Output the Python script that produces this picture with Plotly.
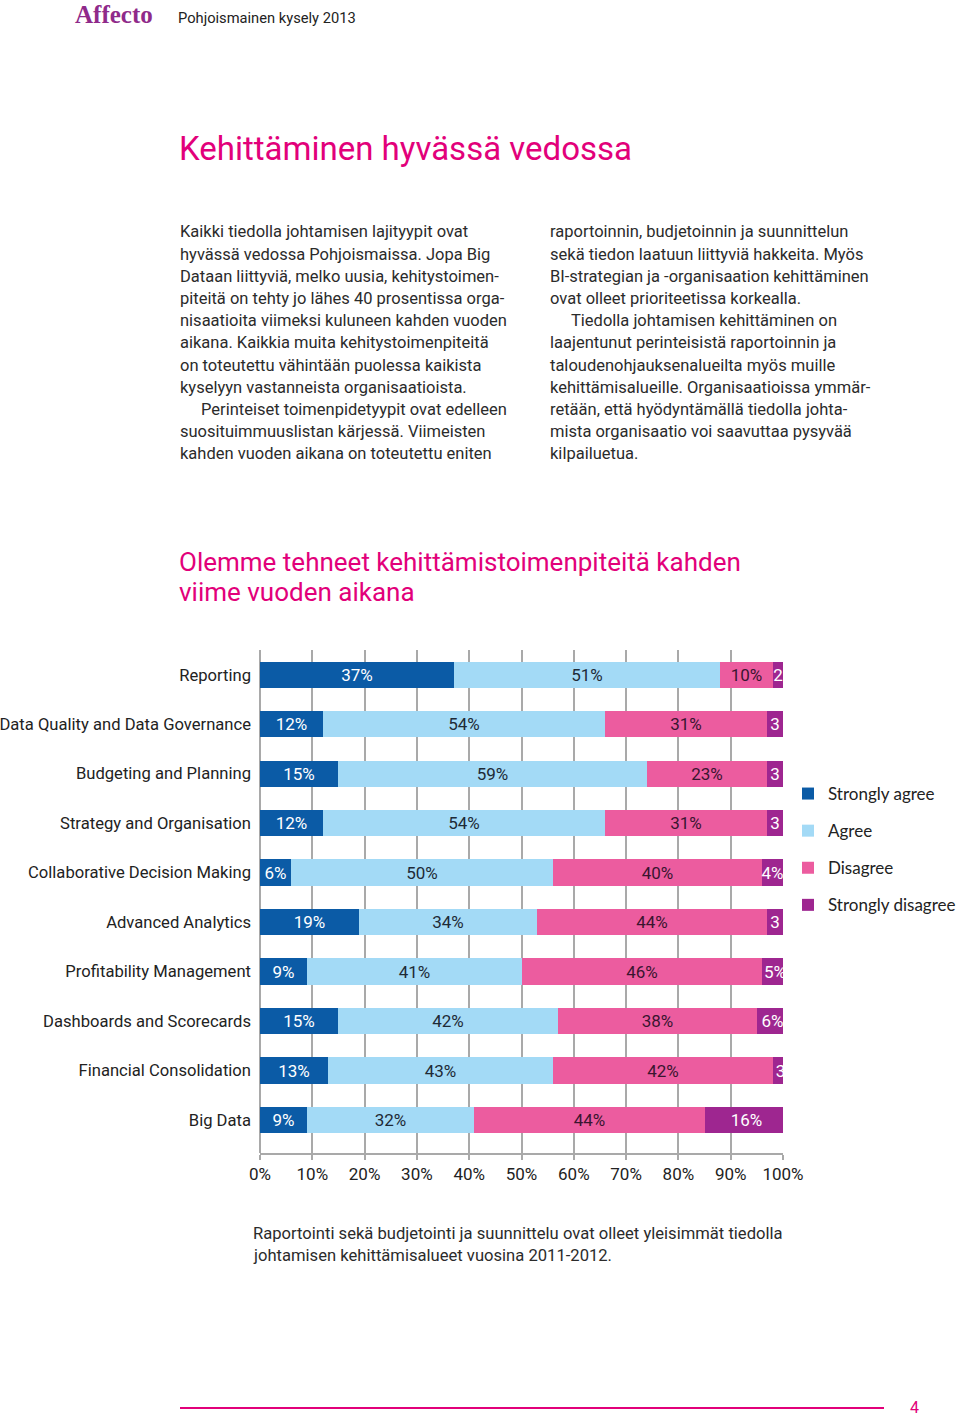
import plotly.graph_objects as go

W, H = 960, 1418

categories = [
    "Reporting",
    "Data Quality and Data Governance",
    "Budgeting and Planning",
    "Strategy and Organisation",
    "Collaborative Decision Making",
    "Advanced Analytics",
    "Profitability Management",
    "Dashboards and Scorecards",
    "Financial Consolidation",
    "Big Data",
]
strongly_agree = [37, 12, 15, 12, 6, 19, 9, 15, 13, 9]
agree = [51, 54, 59, 54, 50, 34, 41, 42, 43, 32]
disagree = [10, 31, 23, 31, 40, 44, 46, 38, 42, 44]
strongly_disagree = [2, 3, 3, 3, 4, 3, 5, 6, 3, 16]

x_ticks = [0, 10, 20, 30, 40, 50, 60, 70, 80, 90, 100]
x_tick_labels = [f"{v}%" for v in x_ticks]

series = [
    ("Strongly agree", strongly_agree, "#0b5ba6", "#ffffff"),
    ("Agree", agree, "#a3daf6", "#1e2a36"),
    ("Disagree", disagree, "#ec5c9f", "#3a1530"),
    ("Strongly disagree", strongly_disagree, "#9e2690", "#ffffff"),
]

PINK = "#e2007a"
TEXT = "#2b2b2b"
FONT = "Roboto"

fig = go.Figure()
for name, vals, color, tcolor in series:
    if name == "Strongly disagree":
        labels = [str(v) if v <= 3 else f"{v}%" for v in vals]
    else:
        labels = [f"{v}%" for v in vals]
    fig.add_trace(go.Bar(
        name=name, y=categories, x=vals, orientation="h",
        marker=dict(color=color, line=dict(width=0)),
        text=labels, textposition="inside", insidetextanchor="middle",
        textangle=0, textfont=dict(family=FONT, size=17, color=tcolor),
        width=0.53, legendgroup=name, hoverinfo="skip",
    ))


def px_x(v):
    return v / W


def px_y(v):
    return 1 - v / H


x0, x1 = 260, 783
y_top, y_bot = 650, 1153

fig.update_layout(
    width=W, height=H, autosize=False,
    margin=dict(l=0, r=0, t=0, b=0, autoexpand=False),
    paper_bgcolor="white", plot_bgcolor="white",
    barmode="stack", bargap=0,
    showlegend=True,
    uniformtext=dict(minsize=17, mode="show"),
    legend=dict(
        x=px_x(788), y=px_y(776), xanchor="left", yanchor="top",
        font=dict(family="Lato", size=17, color="#222222"),
        tracegroupgap=12, traceorder="grouped", bgcolor="rgba(0,0,0,0)",
        itemclick=False, itemdoubleclick=False,
    ),
    xaxis=dict(
        domain=[px_x(x0), px_x(x1)], range=[0, 100],
        tickvals=x_ticks, ticktext=x_tick_labels,
        showgrid=True, gridcolor="#a9a9a9", gridwidth=2,
        zeroline=True, zerolinecolor="#a9a9a9", zerolinewidth=2,
        showline=True, linecolor="#a9a9a9", linewidth=2,
        ticks="outside", ticklen=5, tickcolor="#a9a9a9", tickwidth=2,
        tickfont=dict(family=FONT, size=17, color="#222222"),
        fixedrange=True,
    ),
    yaxis=dict(
        domain=[px_y(y_bot), px_y(y_top)],
        type="category", range=[9.67, -0.5],
        showgrid=False, zeroline=False, showline=False,
        ticks="", ticklabelstandoff=8,
        tickfont=dict(family=FONT, size=16.6, color="#222222"),
        fixedrange=True,
    ),
)

ann = []


def text(x, y, s, size, color=TEXT, family=FONT, anchor="left", **kw):
    ann.append(dict(
        x=px_x(x), y=px_y(y), xref="paper", yref="paper",
        text=s, showarrow=False, xanchor=anchor, yanchor="middle",
        font=dict(family=family, size=size, color=color), **kw,
    ))


# header
text(73, 15, "<b>Affecto</b>", 25, color="#8f2a8a", family="Liberation Serif")
text(176, 18, "Pohjoismainen kysely 2013", 14.7, color="#222222")
text(177, 148, "Kehittäminen hyvässä vedossa", 33, color=PINK)

left_col = [
    "Kaikki tiedolla johtamisen lajityypit ovat",
    "hyvässä vedossa Pohjoismaissa. Jopa Big",
    "Dataan liittyviä, melko uusia, kehitystoimen-",
    "piteitä on tehty jo lähes 40 prosentissa orga-",
    "nisaatioita viimeksi kuluneen kahden vuoden",
    "aikana. Kaikkia muita kehitystoimenpiteitä",
    "on toteutettu vähintään puolessa kaikista",
    "kyselyyn vastanneista organisaatioista.",
    "    Perinteiset toimenpidetyypit ovat edelleen",
    "suosituimmuuslistan kärjessä. Viimeisten",
    "kahden vuoden aikana on toteutettu eniten",
]
right_col = [
    "raportoinnin, budjetoinnin ja suunnittelun",
    "sekä tiedon laatuun liittyviä hakkeita. Myös",
    "BI-strategian ja -organisaation kehittäminen",
    "ovat olleet prioriteetissa korkealla.",
    "    Tiedolla johtamisen kehittäminen on",
    "laajentunut perinteisistä raportoinnin ja",
    "taloudenohjauksenalueilta myös muille",
    "kehittämisalueille. Organisaatioissa ymmär-",
    "retään, että hyödyntämällä tiedolla johta-",
    "mista organisaatio voi saavuttaa pysyvää",
    "kilpailuetua.",
]
for i, line in enumerate(left_col):
    xs = 178
    s = line
    if line.startswith("    "):
        xs = 199
        s = line.strip()
    text(xs, 232 + i * 22.2, s, 16.5)
for i, line in enumerate(right_col):
    xs = 548
    s = line
    if line.startswith("    "):
        xs = 569
        s = line.strip()
    text(xs, 232 + i * 22.2, s, 16.5)

text(177, 562, "Olemme tehneet kehittämistoimenpiteitä kahden", 26, color=PINK)
text(177, 592, "viime vuoden aikana", 26, color=PINK)

text(251, 1233, "Raportointi sekä budjetointi ja suunnittelu ovat olleet yleisimmät tiedolla", 16.6)
text(251, 1255, "johtamisen kehittämisalueet vuosina 2011-2012.", 16.6)

text(914, 1407, "4", 16, color=PINK, anchor="center")

fig.update_layout(annotations=ann)
fig.add_shape(type="line", xref="paper", yref="paper",
              x0=px_x(180), x1=px_x(884), y0=px_y(1408), y1=px_y(1408),
              line=dict(color=PINK, width=2))

fig.write_html(
    "out.html",
    config={"responsive": False, "displayModeBar": False},
    post_script="document.body.style.margin='0';document.body.style.padding='0';"
                "document.documentElement.style.overflow='hidden';"
                "document.body.style.overflow='hidden';",
)
